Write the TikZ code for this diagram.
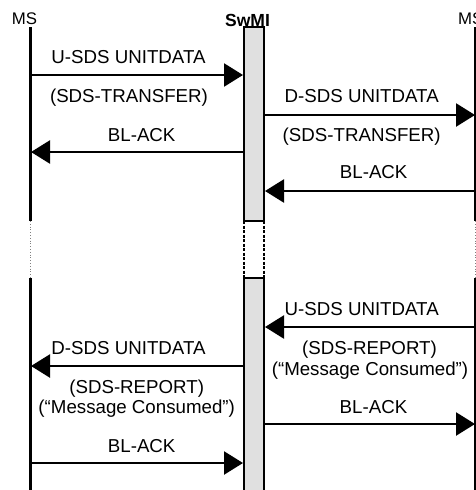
\documentclass[tikz,border=0pt]{standalone}
\usepackage{fontspec}
\setmainfont{Liberation Sans}
\usetikzlibrary{arrows.meta}
\begin{document}
\begin{tikzpicture}[x=1pt,y=-1pt,
  msg/.style={line width=2.4pt,-{Triangle[length=19pt,width=23pt]}},
  life/.style={line width=2.6pt},
  gap/.style={line width=0.8pt,gray,dotted},
  lbl/.style={inner sep=0pt,anchor=base,font=\fontsize{18.7pt}{21pt}\selectfont},
  ent/.style={inner sep=0pt,anchor=base,font=\fontsize{16.8pt}{19pt}\selectfont},
  actbox/.style={draw,line width=2.2pt,fill=black!12},
  actgap/.style={line width=1.3pt,dash pattern=on 3pt off 1.5pt}]
\useasboundingbox (0,0) rectangle (476,490);
\clip (0,0) rectangle (476,490);
% entities
\node[ent] (msl) at (24.5,24) {MS};
\node[ent,anchor=base west] (msr) at (458,24) {MS};
\node[ent,font=\fontsize{17.5pt}{19pt}\selectfont\bfseries] (swmi) at (247.5,26) {SwMI};
% lifeline coordinates
\coordinate (L0) at (30.5,27); \coordinate (L1) at (30.5,221);
\coordinate (L2) at (30.5,278); \coordinate (L3) at (30.5,492);
\coordinate (R0) at (475,27); \coordinate (R1) at (475,221);
\coordinate (R2) at (475,278); \coordinate (R3) at (475,492);
\draw[life] (L0) -- (L1); \draw[gap] (L1) -- (L2); \draw[life] (L2) -- (L3);
\draw[life] (R0) -- (R1); \draw[gap] (R1) -- (R2); \draw[life] (R2) -- (R3);
% SwMI activation boxes
\coordinate (B0) at (244,27); \coordinate (B1) at (264,221);
\coordinate (B2) at (244,278); \coordinate (B3) at (264,500);
\draw[actbox] (B0) rectangle (B1);
\draw[actbox] (B2) rectangle (B3);
\draw[actgap] (244,221) -- (244,278);
\draw[actgap] (264,221) -- (264,278);
% arrow end points
\foreach \n/\y in {1/75,2/115,3/152,4/191,5/327,6/366,7/424,8/463}{
  \coordinate (l\n) at (31,\y);
  \coordinate (bl\n) at (243,\y);
  \coordinate (br\n) at (265,\y);
  \coordinate (r\n) at (475,\y);
}
\draw[msg] (l1) -- (bl1);
\draw[msg] (br2) -- (r2);
\draw[msg] (bl3) -- (l3);
\draw[msg] (r4) -- (br4);
\draw[msg] (r5) -- (br5);
\draw[msg] (bl6) -- (l6);
\draw[msg] (br7) -- (r7);
\draw[msg] (l8) -- (bl8);
% labels
\node[lbl] (t1a) at (128.5,63) {U-SDS UNITDATA};
\node[lbl] (t1b) at (129,102) {(SDS-TRANSFER)};
\node[lbl] (t2a) at (361.7,102) {D-SDS UNITDATA};
\node[lbl] (t2b) at (361.7,141) {(SDS-TRANSFER)};
\node[lbl] (t3) at (141.7,141) {BL-ACK};
\node[lbl] (t4) at (373.7,178) {BL-ACK};
\node[lbl] (t5a) at (361.7,315) {U-SDS UNITDATA};
\node[lbl] (t5b) at (369.5,354) {(SDS-REPORT)};
\node[lbl] (t5c) at (370,375) {(“Message Consumed”)};
\node[lbl] (t6a) at (128.5,354) {D-SDS UNITDATA};
\node[lbl] (t6b) at (136.7,393) {(SDS-REPORT)};
\node[lbl] (t6c) at (136.7,413) {(“Message Consumed”)};
\node[lbl] (t7) at (373.5,413) {BL-ACK};
\node[lbl] (t8) at (141.7,452) {BL-ACK};
\end{tikzpicture}
\end{document}
